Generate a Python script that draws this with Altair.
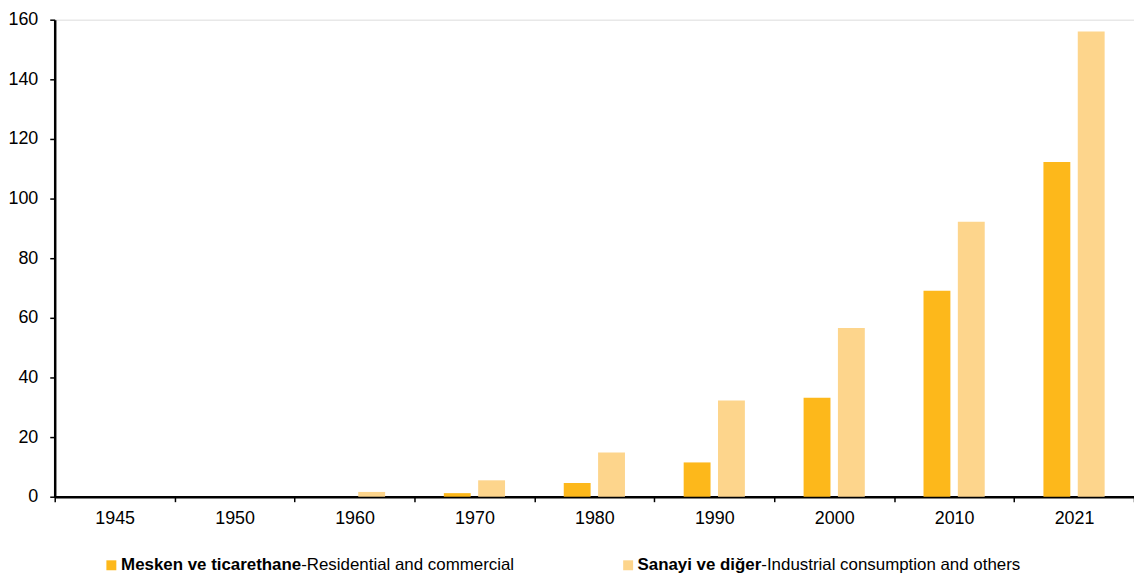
import altair as alt
import pandas as pd

years = ["1945", "1950", "1960", "1970", "1980", "1990", "2000", "2010", "2021"]
residential = [0, 0, 0, 1.2, 4.6, 11.5, 33.2, 69.1, 112.3]
industrial = [0, 0, 1.6, 5.5, 14.8, 32.3, 56.6, 92.2, 156.0]
series_bold = ["Mesken ve ticarethane", "Sanayi ve diğer"]
series_rest = ["-Residential and commercial", "-Industrial consumption and others"]
colors = ["#FDB81B", "#FDD58C"]
y_ticks = [0, 20, 40, 60, 80, 100, 120, 140, 160]

rows = []
for i, yr in enumerate(years):
    rows.append({"year": yr, "series": series_bold[0], "value": residential[i]})
    rows.append({"year": yr, "series": series_bold[1], "value": industrial[i]})
df = pd.DataFrame(rows)

FONT = "Liberation Sans"

bars = alt.Chart(df).mark_bar().encode(
    x=alt.X("year:N", sort=years, title=None,
            scale=alt.Scale(paddingInner=0, paddingOuter=0),
            axis=alt.Axis(labelAngle=0, tickBand="extent", tickSize=5, tickColor="black",
                          tickWidth=1.5, domainColor="black", domainWidth=2.5,
                          labelFontSize=18, labelFont=FONT, labelColor="black",
                          labelPadding=8, grid=False)),
    xOffset=alt.XOffset("series:N", sort=series_bold,
                        scale=alt.Scale(paddingInner=0.217, paddingOuter=0.855)),
    y=alt.Y("value:Q", title=None,
            scale=alt.Scale(domain=[0, 160], nice=False),
            axis=alt.Axis(values=y_ticks, tickSize=5, tickColor="black", tickWidth=1.5,
                          domainColor="black", domainWidth=2.5, labelFontSize=18,
                          labelFont=FONT, labelColor="black", labelPadding=12, grid=False)),
    color=alt.Color("series:N", sort=series_bold,
                    scale=alt.Scale(domain=series_bold, range=colors), legend=None),
)

leg = pd.DataFrame({
    "bold": series_bold,
    "rest": series_rest,
    "sx": [57, 577],
    "rx": [248, 711],
})

LY = 549
layers = [bars]
for i in range(2):
    one = leg.iloc[[i]]
    base = alt.Chart(one)
    layers.append(base.mark_square(size=100, opacity=1).encode(
        x=alt.value(float(leg.sx[i])), y=alt.value(LY),
        color=alt.value(colors[i])))
    layers.append(base.mark_text(align="right", baseline="middle", fontSize=17, font=FONT,
                                 fontWeight="bold", color="black").encode(
        x=alt.value(float(leg.rx[i])), y=alt.value(LY), text="bold:N"))
    layers.append(base.mark_text(align="left", baseline="middle", fontSize=17, font=FONT,
                                 color="black").encode(
        x=alt.value(float(leg.rx[i])), y=alt.value(LY), text="rest:N"))

chart = alt.layer(*layers).properties(
    width=1086, height=480,
    autosize=alt.AutoSizeParams(type="none"),
    padding={"left": 47, "top": 10, "right": 0, "bottom": 75},
).configure_view(stroke=None).configure(background="white")

chart.save("out.html", embed_options={"renderer": "svg", "actions": False})
